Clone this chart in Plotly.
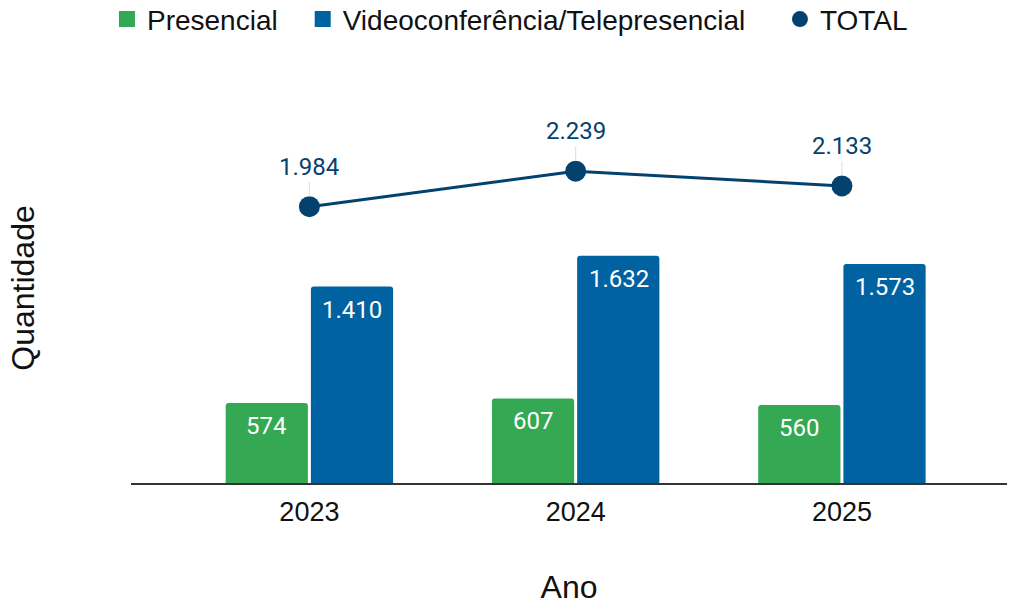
import plotly.graph_objects as go

anos = ["2023", "2024", "2025"]
presencial = [574, 607, 560]
video = [1410, 1632, 1573]
total = [1984, 2239, 2133]

VERDE = "#34A853"
AZUL = "#0062A0"
MARINHO = "#03426F"


def fmt(v):
    return f"{v:,}".replace(",", ".")


fig = go.Figure()

fig.add_trace(go.Bar(
    x=anos, y=presencial, name="Presencial",
    marker=dict(color=VERDE, line=dict(width=0)),
    showlegend=False,
))
fig.add_trace(go.Bar(
    x=anos, y=video, name="Videoconferência/Telepresencial",
    marker=dict(color=AZUL, line=dict(width=0)),
    showlegend=False,
))
fig.add_trace(go.Scatter(
    x=anos, y=total, name="TOTAL", mode="lines+markers",
    line=dict(color=MARINHO, width=3),
    marker=dict(color=MARINHO, size=21),
    showlegend=False,
))

# one legend box per entry so each can be placed on its own
entradas = [("Presencial", VERDE, "square", "legend", 0.106),
            ("Videoconferência/Telepresencial", AZUL, "square", "legend2", 0.300),
            ("TOTAL", MARINHO, "circle", "legend3", 0.773)]
legend_cfg = {}
for nome, cor, simb, leg, xpos in entradas:
    fig.add_trace(go.Scatter(
        x=[None], y=[None], name=nome, mode="markers", legend=leg,
        marker=dict(color=cor, size=18, symbol=simb),
    ))
    legend_cfg[leg] = dict(
        orientation="h", x=xpos, xref="container", xanchor="left",
        y=0.968, yref="container", yanchor="middle",
        font=dict(family="Liberation Sans, Arial", size=28, color="#111111"),
        bgcolor="rgba(0,0,0,0)",
    )

anots = []
# values inside the bars, near the top
for serie, dx in [(presencial, -43), (video, 43)]:
    for i, v in enumerate(serie):
        anots.append(dict(
            x=i, y=v, text=fmt(v), showarrow=False, xref="x", yref="y",
            xshift=dx, yshift=-7, yanchor="top",
            font=dict(family="Roboto", size=24, color="white"),
        ))
# totals above the markers with a thin leader line
for i, v in enumerate(total):
    anots.append(dict(
        x=i, y=v, text=fmt(v), showarrow=True, xref="x", yref="y",
        ax=0, ay=-40, arrowhead=0, arrowwidth=1, arrowcolor="#DDDDDD",
        standoff=10,
        font=dict(family="Roboto", size=24, color=MARINHO),
    ))

fig.update_layout(
    width=1009, height=605,
    template="none",
    paper_bgcolor="white", plot_bgcolor="white",
    separators=",.",
    barmode="group", bargap=0.36, bargroupgap=0.035,
    barcornerradius=3,
    margin=dict(l=131, r=2, t=93, b=122),
    font=dict(family="Liberation Sans, Arial", size=22, color="#111111"),
    xaxis=dict(
        type="category", range=[-0.67, 2.62],
        showgrid=False, zeroline=False,
        showline=True, linecolor="#333333", linewidth=1.5,
        ticks="", tickfont=dict(size=27, color="#111111"),
        ticklabelstandoff=4,
        title=dict(text="Ano", font=dict(size=32, color="#111111"), standoff=52),
        automargin=False,
    ),
    yaxis=dict(
        range=[0, 2800], showgrid=False, zeroline=False,
        showline=False, showticklabels=False, ticks="",
        title=dict(text="Quantidade", font=dict(size=32, color="#111111"), standoff=85),
        automargin=False,
    ),
    annotations=anots,
    **legend_cfg,
)

fig.write_html("out.html")
